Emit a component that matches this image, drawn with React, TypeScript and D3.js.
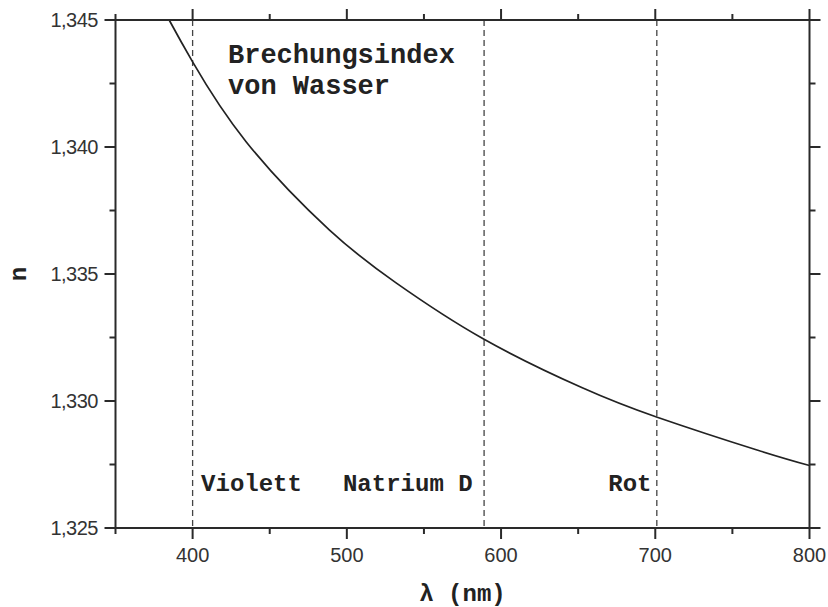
import React from "react";
import * as d3 from "d3";

const wavelengths = [384.8, 400, 434.8, 488.6, 531.7, 588.1, 652.3, 700.8, 766.5, 800];
const nValues = [1.345, 1.34335, 1.3402, 1.33674, 1.33466, 1.33246, 1.33053, 1.32937, 1.32806, 1.32746];
const markerLines = [400, 589, 701];
const markerLabels = [
  { text: "Violett", x: 405.5 },
  { text: "Natrium D", x: 497.5 },
  { text: "Rot", x: 669.5 },
];
const titleLines = ["Brechungsindex", "von Wasser"];
const xMajor = [400, 500, 600, 700, 800];
const xMinor = [350, 450, 550, 650, 750];
const yMajor = [1.325, 1.33, 1.335, 1.34, 1.345];
const yMinor = [1.3275, 1.3325, 1.3375, 1.3425];

const W = 828, H = 607;
const L = 115.5, R = 809.5, T = 20, B = 528;

const locale = d3.formatLocale({ decimal: ",", thousands: ".", grouping: [3], currency: ["", ""] });
const fmtY = locale.format(".3f");

export default function App() {
  const x = d3.scaleLinear().domain([350, 800]).range([L, R]);
  const y = d3.scaleLinear().domain([1.325, 1.345]).range([B, T]);
  const line = d3
    .line<number>()
    .x((_, i) => x(wavelengths[i]))
    .y((d) => y(d))
    .curve(d3.curveNatural);
  const axisColor = "#2a2a2a";
  const mono = "'Liberation Mono', 'Courier New', monospace";
  const sans = "'Liberation Sans', Arial, sans-serif";
  return (
    <svg width={W} height={H} style={{ position: "absolute", left: 0, top: 0, background: "#fff" }}>
      <rect x={0} y={0} width={W} height={H} fill="#fff" />
      {markerLines.map((v) => (
        <line key={v} x1={x(v)} x2={x(v)} y1={T} y2={B} stroke="#444" strokeWidth={1.3} strokeDasharray="6,4" />
      ))}
      <path d={line(nValues) || ""} fill="none" stroke="#222" strokeWidth={1.7} />
      <rect x={L} y={T} width={R - L} height={B - T} fill="none" stroke={axisColor} strokeWidth={2} />
      {xMajor.map((v) => (
        <g key={"xM" + v}>
          <line x1={x(v)} x2={x(v)} y1={B} y2={B + 11} stroke={axisColor} strokeWidth={2} />
          <line x1={x(v)} x2={x(v)} y1={T} y2={T - 11} stroke={axisColor} strokeWidth={2} />
          <text x={x(v)} y={562} textAnchor="middle" fontFamily={sans} fontSize={20} fill="#333">
            {v}
          </text>
        </g>
      ))}
      {xMinor.map((v) => (
        <g key={"xm" + v}>
          <line x1={x(v)} x2={x(v)} y1={B} y2={B + 6} stroke={axisColor} strokeWidth={2} />
          <line x1={x(v)} x2={x(v)} y1={T} y2={T - 6} stroke={axisColor} strokeWidth={2} />
        </g>
      ))}
      {yMajor.map((v) => (
        <g key={"yM" + v}>
          <line x1={L} x2={L - 11} y1={y(v)} y2={y(v)} stroke={axisColor} strokeWidth={2} />
          <line x1={R} x2={R + 11} y1={y(v)} y2={y(v)} stroke={axisColor} strokeWidth={2} />
          <text x={98} y={y(v) + 7} textAnchor="end" fontFamily={sans} fontSize={20} fill="#333" letterSpacing={-0.5}>
            {fmtY(v)}
          </text>
        </g>
      ))}
      {yMinor.map((v) => (
        <g key={"ym" + v}>
          <line x1={L} x2={L - 6} y1={y(v)} y2={y(v)} stroke={axisColor} strokeWidth={2} />
          <line x1={R} x2={R + 6} y1={y(v)} y2={y(v)} stroke={axisColor} strokeWidth={2} />
        </g>
      ))}
      {titleLines.map((t, i) => (
        <text key={t} x={228} y={63 + i * 30.5} fontFamily={mono} fontWeight="bold" fontSize={27} fill="#222">
          {t}
        </text>
      ))}
      {markerLabels.map((m) => (
        <text key={m.text} x={x(m.x)} y={491} fontFamily={mono} fontWeight="bold" fontSize={24} fill="#222">
          {m.text}
        </text>
      ))}
      <text x={(L + R) / 2} y={601} textAnchor="middle" fontFamily={mono} fontWeight="bold" fontSize={24} fill="#222">
        λ (nm)
      </text>
      <text transform={`translate(25.5, ${(T + B) / 2}) rotate(-90)`} textAnchor="middle" fontFamily={mono} fontWeight="bold" fontSize={24} fill="#222">
        n
      </text>
    </svg>
  );
}
